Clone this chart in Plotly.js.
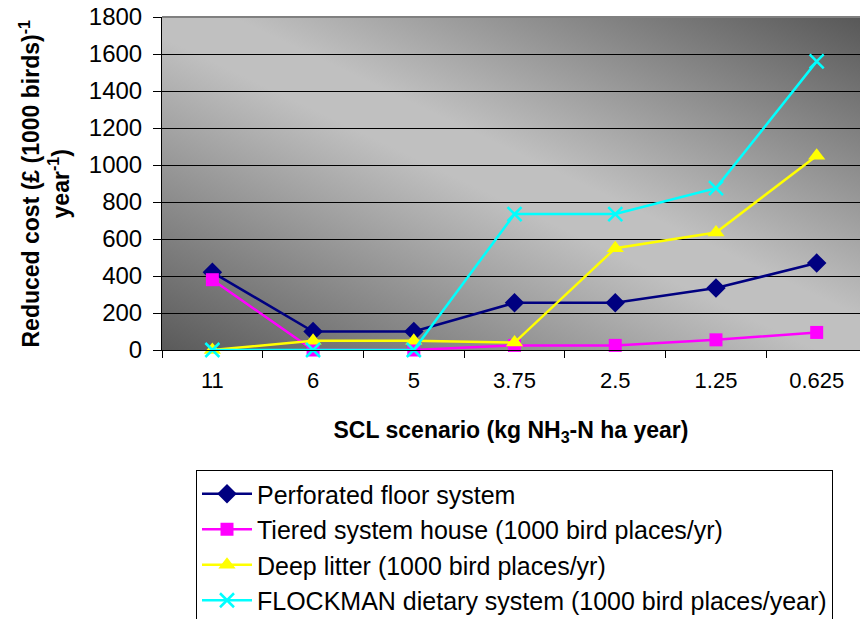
<!DOCTYPE html>
<html>
<head>
<meta charset="utf-8">
<script src="https://cdn.plot.ly/plotly-3.0.1.min.js"></script>
<style>html,body{margin:0;padding:0;background:#fff;}#chart{width:860px;height:619px;}</style>
</head>
<body>
<div id="chart"></div>
<script>
const categories = ['11', '6', '5', '3.75', '2.5', '1.25', '0.625'];
const perforatedFloor = [420, 100, 100, 255, 255, 335, 470];
const tieredSystem = [380, 0, 0, 25, 25, 55, 95];
const deepLitter = [0, 50, 50, 40, 550, 635, 1050];
const flockmanDietary = [0, 0, 0, 735, 735, 875, 1560];
const seriesNames = [
  'Perforated floor system',
  'Tiered system house (1000 bird places/yr)',
  'Deep litter (1000 bird places/yr)',
  'FLOCKMAN dietary system (1000 bird places/year)'
];
const yTicks = [0, 200, 400, 600, 800, 1000, 1200, 1400, 1600, 1800];
const yTitle = 'Reduced cost (£ (1000 birds)<sup>-1</sup><br>year<sup>-1</sup>)';
const xTitle = 'SCL scenario (kg NH<sub>3</sub>-N ha year)';

const gradSvg = '<svg xmlns="http://www.w3.org/2000/svg" width="700" height="333" viewBox="0 0 700 333" preserveAspectRatio="none">' +
  '<defs><linearGradient id="g" x1="0" y1="1" x2="1" y2="0">' +
  '<stop offset="0" stop-color="#5a5a5a"/>' +
  '<stop offset="0.47" stop-color="#c0c0c0"/>' +
  '<stop offset="0.55" stop-color="#c0c0c0"/>' +
  '<stop offset="1" stop-color="#585858"/>' +
  '</linearGradient></defs><rect width="700" height="333" fill="url(#g)"/></svg>';
const gradUri = 'data:image/svg+xml;base64,' + btoa(gradSvg);

const styles = [
  {color: '#000080', symbol: 'diamond', size: 15},
  {color: '#FF00FF', symbol: 'square', size: 13},
  {color: '#FFFF00', symbol: 'triangle-up', size: 15},
  {color: '#00FFFF', symbol: 'x-thin-open', size: 14}
];
const values = [perforatedFloor, tieredSystem, deepLitter, flockmanDietary];

const traces = values.map((v, i) => ({
  type: 'scatter',
  mode: 'lines+markers',
  x: categories,
  y: v,
  name: seriesNames[i],
  legendgroup: 'g' + i,
  line: {color: styles[i].color, width: 2.5},
  marker: {
    color: styles[i].color,
    symbol: styles[i].symbol,
    size: styles[i].size,
    line: {color: styles[i].color, width: i === 3 ? 2.5 : 0}
  },
  cliponaxis: false
}));

const titleFont = {size: 23, color: '#000000', family: 'Liberation Sans, Arial, sans-serif', weight: 'bold'};

const layout = {
  width: 860,
  height: 619,
  margin: {l: 162, r: 0, t: 17, b: 269, autoexpand: false},
  paper_bgcolor: '#ffffff',
  plot_bgcolor: 'rgba(0,0,0,0)',
  font: {family: 'Liberation Sans, Arial, sans-serif', color: '#000000'},
  showlegend: true,
  xaxis: {
    type: 'category',
    range: [-0.5, 6.43],
    tickson: 'boundaries',
    ticks: 'outside',
    ticklen: 7,
    tickcolor: '#000000',
    showline: true,
    linecolor: '#000000',
    linewidth: 1,
    showgrid: false,
    tickfont: {size: 22, color: '#000000'},
    ticklabelstandoff: 11,
    automargin: true,
    title: {text: xTitle, font: titleFont, standoff: 29},
    fixedrange: true
  },
  yaxis: {
    range: [0, 1800],
    tickvals: yTicks,
    ticktext: yTicks.map(String),
    ticks: 'outside',
    ticklen: 8,
    tickcolor: '#000000',
    showline: true,
    linecolor: '#000000',
    linewidth: 1,
    showgrid: true,
    gridcolor: '#000000',
    gridwidth: 1,
    zeroline: false,
    tickfont: {size: 24, color: '#000000'},
    ticklabelstandoff: 6,
    fixedrange: true
  },
  annotations: [{
    text: yTitle,
    xref: 'paper', yref: 'paper',
    x: (44 - 162) / 698, y: 0.5,
    xanchor: 'center', yanchor: 'middle',
    textangle: -90,
    showarrow: false,
    font: titleFont
  }],
  legend: {
    xref: 'container',
    yref: 'container',
    x: 196 / 860,
    y: 1 - 470 / 619,
    xanchor: 'left',
    yanchor: 'top',
    bgcolor: '#ffffff',
    bordercolor: '#000000',
    borderwidth: 1,
    font: {size: 25, color: '#000000'},
    traceorder: 'grouped',
    tracegroupgap: 0,
    itemwidth: 50
  },
  images: [{
    source: gradUri,
    xref: 'paper', yref: 'paper',
    x: 0, y: 1, sizex: 1, sizey: 1,
    xanchor: 'left', yanchor: 'top',
    sizing: 'stretch',
    layer: 'below'
  }],
  shapes: [{
    type: 'line', xref: 'paper', yref: 'paper',
    x0: 0, x1: 1, y0: 1, y1: 1,
    line: {color: '#808080', width: 2}
  }]
};

Plotly.newPlot('chart', traces, layout, {displayModeBar: false, staticPlot: true});
</script>
</body>
</html>
